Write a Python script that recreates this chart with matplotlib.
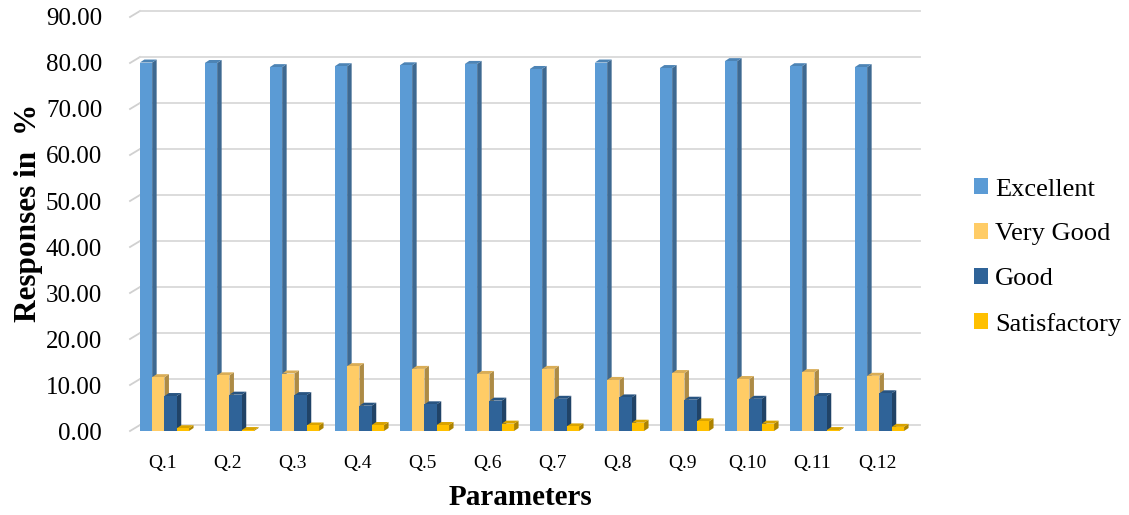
import numpy as np
import matplotlib.pyplot as plt
from matplotlib.patches import Polygon, Patch
import matplotlib.colors as mcolors

# survey responses per question (percent)
questions = ['Q.1', 'Q.2', 'Q.3', 'Q.4', 'Q.5', 'Q.6', 'Q.7', 'Q.8', 'Q.9', 'Q.10', 'Q.11', 'Q.12']
excellent = [80.1, 80.0, 79.1, 79.3, 79.5, 79.8, 78.7, 80.1, 78.9, 80.4, 79.3, 79.1]
very_good = [11.7, 12.1, 12.5, 14.1, 13.5, 12.4, 13.5, 11.1, 12.6, 11.3, 12.8, 12.0]
good = [7.6, 7.9, 7.8, 5.5, 5.8, 6.6, 7.0, 7.3, 6.8, 7.0, 7.6, 8.2]
satisfactory = [0.6, 0.2, 1.2, 1.3, 1.3, 1.6, 1.0, 1.8, 2.1, 1.6, 0.2, 0.9]

series = [('Excellent', excellent, '#5B9BD5'),
          ('Very Good', very_good, '#FFCC66'),
          ('Good', good, '#2F6398'),
          ('Satisfactory', satisfactory, '#FFC000')]

plt.rcParams['font.family'] = ['Liberation Serif', 'DejaVu Serif']

fig = plt.figure(figsize=(11.29, 5.15), dpi=100)
ax = fig.add_axes([130 / 1129, 84 / 515, 780 / 1129, 414 / 515])
ax.set_xlim(-0.5, 11.5)
ax.set_ylim(0, 90)

# pixel -> data conversion for the fake depth
px_x = 12 / 780
px_y = 90 / 414

# back wall gridlines, shifted up/right
wall_dx = 10 * px_x
wall_dy = 6 * px_y
for v in np.arange(0, 91, 10):
    ax.plot([-0.5, -0.5 + wall_dx], [v, v + wall_dy], color='#D0D0D0', lw=1.3,
            clip_on=False, zorder=1)
    ax.plot([-0.5 + wall_dx, 11.5 + wall_dx], [v + wall_dy, v + wall_dy],
            color='#D9D9D9', lw=1.3, clip_on=False, zorder=1)

bw = 12.3 / 65
dx = 4.5 * px_x
dy = 3 * px_y
x = np.arange(len(questions))
start = -2 * bw + 0.03

for k, (name, vals, col) in enumerate(series):
    side = mcolors.to_rgb(col)
    side_c = tuple(c * 0.68 for c in side)
    top_c = tuple(c * 0.85 for c in side)
    for i, h in enumerate(vals):
        x0 = x[i] + start + k * bw
        x1 = x0 + bw
        ax.add_patch(Polygon([(x1, 0), (x1, h), (x1 + dx, h + dy), (x1 + dx, dy)],
                             closed=True, facecolor=side_c, edgecolor='none', zorder=2 + k))
        ax.add_patch(Polygon([(x0, h), (x1, h), (x1 + dx, h + dy), (x0 + dx, h + dy)],
                             closed=True, facecolor=top_c, edgecolor='none', zorder=2 + k))
        ax.bar(x0, h, width=bw, align='edge', color=col, edgecolor='none', zorder=2 + k)

for s in ax.spines.values():
    s.set_visible(False)
ax.set_xticks(x)
ax.set_xticklabels(questions, fontsize=14)
ax.set_yticks(np.arange(0, 91, 10))
ax.set_yticklabels(['%.2f' % v for v in np.arange(0, 91, 10)], fontsize=18)
ax.tick_params(length=0)
ax.tick_params(axis='x', pad=17)
ax.tick_params(axis='y', pad=20)

ax.set_xlabel('Parameters', fontsize=21, fontweight='bold')
ax.xaxis.set_label_coords(0.5, -0.127)
ax.set_ylabel('Responses in  %', fontsize=22.5, fontweight='bold')
ax.yaxis.set_label_coords(-0.112, 0.527)

handles = [Patch(facecolor=c, label=n) for n, _, c in series]
fig.legend(handles=handles, loc='center left', bbox_to_anchor=(950 / 1129, 258 / 515),
           frameon=False, fontsize=19, handlelength=0.55, handleheight=0.55,
           handletextpad=0.25, labelspacing=0.85)

fig.savefig('out.png', dpi=100)
